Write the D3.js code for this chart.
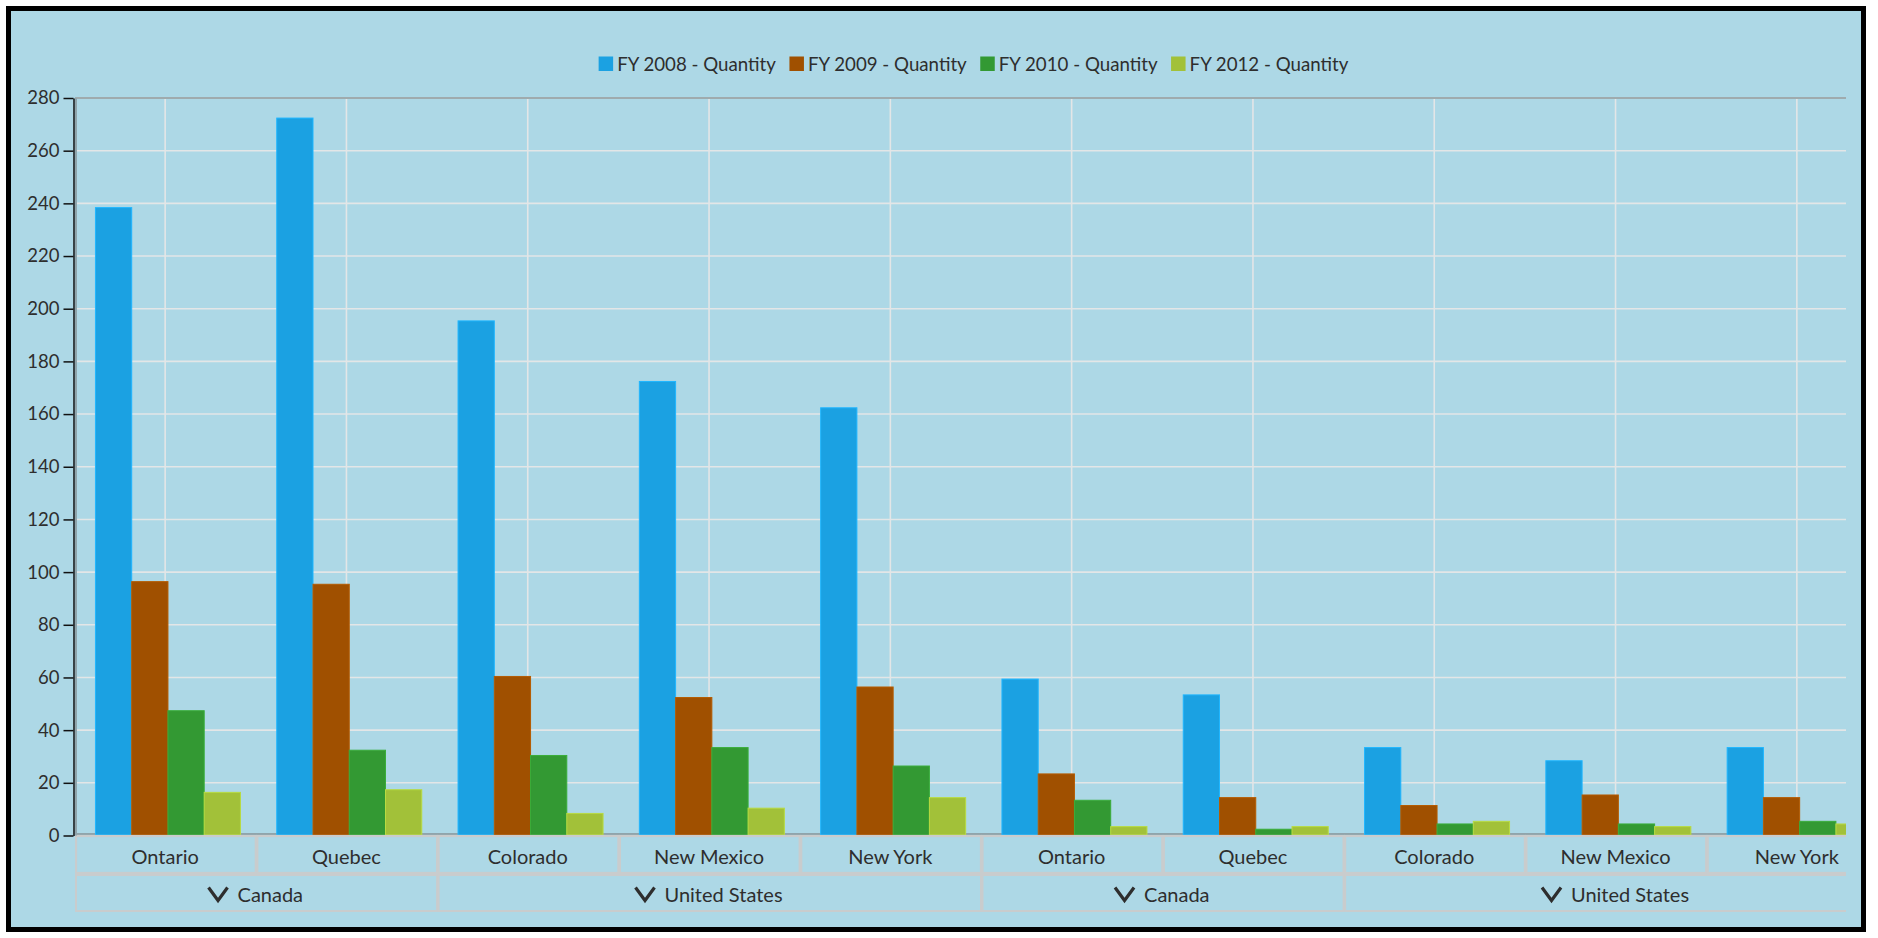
<!DOCTYPE html>
<html>
<head>
<meta charset="utf-8">
<script src="https://cdn.jsdelivr.net/npm/d3@7"></script>
<style>
  html, body { margin: 0; padding: 0; background: #ffffff; }
  svg { display: block; }
  text { font-family: "Segoe UI", Lato, "Noto Sans", sans-serif; fill: #2e2e2e; }
</style>
</head>
<body>
<svg id="chart" width="1878" height="938"></svg>
<script>
// ---------- data ----------
const categories = ["Ontario", "Quebec", "Colorado", "New Mexico", "New York",
                    "Ontario", "Quebec", "Colorado", "New Mexico", "New York"];
const groupNames = ["Canada", "United States", "Canada", "United States"];
const groupSpans = [2, 3, 2, 3];
const seriesNames = ["FY 2008 - Quantity", "FY 2009 - Quantity", "FY 2010 - Quantity", "FY 2012 - Quantity"];
const fy2008 = [238, 272, 195, 172, 162, 59, 53, 33, 28, 33];
const fy2009 = [96, 95, 60, 52, 56, 23, 14, 11, 15, 14];
const fy2010 = [47, 32, 30, 33, 26, 13, 2, 4, 4, 5];
const fy2012 = [16, 17, 8, 10, 14, 3, 3, 5, 3, 4];
const seriesColors = ["#1ba1e2", "#a05000", "#339933", "#a2c139"];
const yTicks = [0, 20, 40, 60, 80, 100, 120, 140, 160, 180, 200, 220, 240, 260, 280];

const seriesValues = [fy2008, fy2009, fy2010, fy2012];

// ---------- layout ----------
const svg = d3.select("#chart");
const W = 1878, H = 938;
const plotLeft = 75, plotRight = 1846, plotTop = 98, plotBottom = 835.5;
const bandStart = 74.5, bandStep = 181.3;

// frame
svg.append("rect").attr("x", 8.5).attr("y", 8.5).attr("width", 1855).attr("height", 921)
  .attr("fill", "#add8e6").attr("stroke", "#000").attr("stroke-width", 5);

const x = d3.scaleBand().domain(d3.range(categories.length))
  .range([bandStart, bandStart + bandStep * categories.length]).padding(0);
const groupWidth = 145;
const xs = d3.scaleBand().domain(seriesNames).range([0, groupWidth]).padding(0);
const barShift = (x.bandwidth() - groupWidth) / 2 + 2.8;
const y = d3.scaleLinear().domain([0, 280]).range([plotBottom, plotTop]);

// clip for plot / axis rows
svg.append("defs").append("clipPath").attr("id", "clipPlot")
  .append("rect").attr("x", plotLeft).attr("y", 0).attr("width", plotRight - plotLeft).attr("height", H);

const plot = svg.append("g").attr("clip-path", "url(#clipPlot)");

// horizontal gridlines
plot.append("g").selectAll("line").data(yTicks.filter(t => t > 0 && t < 280)).join("line")
  .attr("x1", plotLeft).attr("x2", plotRight)
  .attr("y1", d => y(d)).attr("y2", d => y(d))
  .attr("stroke", "#e3e6e7").attr("stroke-width", 1.6);

// vertical gridlines at category centres
plot.append("g").selectAll("line").data(d3.range(categories.length)).join("line")
  .attr("x1", d => x(d) + x.bandwidth() / 2).attr("x2", d => x(d) + x.bandwidth() / 2)
  .attr("y1", plotTop).attr("y2", plotBottom)
  .attr("stroke", "#e3e6e7").attr("stroke-width", 1.6);

// plot border (top, left, bottom)
plot.append("line").attr("x1", plotLeft).attr("x2", plotRight).attr("y1", plotTop).attr("y2", plotTop)
  .attr("stroke", "#9fabae").attr("stroke-width", 2);
plot.append("line").attr("x1", plotLeft).attr("x2", plotRight).attr("y1", plotBottom - 1.5).attr("y2", plotBottom - 1.5)
  .attr("stroke", "#8fa4ab").attr("stroke-width", 2);
svg.append("line").attr("x1", plotLeft + 1).attr("x2", plotLeft + 1).attr("y1", plotTop).attr("y2", plotBottom)
  .attr("stroke", "#8fa4ab").attr("stroke-width", 2);

// bars
const barData = [];
seriesValues.forEach((vals, si) => {
  vals.forEach((v, ci) => barData.push({ ci, si, v }));
});
plot.append("g").selectAll("rect").data(barData).join("rect")
  .attr("x", d => x(d.ci) + barShift + xs(seriesNames[d.si]))
  .attr("y", d => y(d.v) - 1)
  .attr("width", xs.bandwidth())
  .attr("height", d => plotBottom - y(d.v) + 0.5)
  .attr("fill", d => seriesColors[d.si])
  .attr("stroke", d => d3.color(seriesColors[d.si]).brighter(0.35))
  .attr("stroke-width", 1);

// y axis
const yAxis = d3.axisLeft(y).tickValues(yTicks).tickSize(10).tickSizeOuter(0).tickPadding(4);
const gy = svg.append("g").attr("transform", "translate(73.5,0)").call(yAxis);
gy.select(".domain").attr("stroke", "#111").attr("stroke-width", 1.5);
gy.selectAll(".tick line").attr("stroke", "#111").attr("stroke-width", 1.5);
gy.selectAll(".tick text").style("font-size", "18.5px").style("font-family", "\"Segoe UI\", Lato, \"Noto Sans\", sans-serif")
  .attr("fill", "#2e2e2e");

// category label row
const rowTop = 836, rowH = 37, grpTop = 875, grpH = 36;
const cells = plot.append("g");
cells.selectAll("rect").data(d3.range(categories.length)).join("rect")
  .attr("x", d => x(d) + 1.5).attr("y", rowTop)
  .attr("width", x.bandwidth() - 1.5).attr("height", rowH)
  .attr("fill", "none").attr("stroke", "#c9cccd").attr("stroke-width", 2.2);
cells.selectAll("text").data(d3.range(categories.length)).join("text")
  .attr("x", d => x(d) + x.bandwidth() / 2).attr("y", rowTop + 28)
  .attr("text-anchor", "middle").style("font-size", "20px")
  .text(d => categories[d]);

// group row
let acc = 0;
const groupData = groupNames.map((g, i) => {
  const start = acc; acc += groupSpans[i];
  return { name: g, start, end: acc };
});
const gRow = plot.append("g");
gRow.selectAll("rect").data(groupData).join("rect")
  .attr("x", d => x(d.start) + 1.5).attr("y", grpTop)
  .attr("width", d => x(d.end - 1) + x.bandwidth() - x(d.start) - 1.5).attr("height", grpH)
  .attr("fill", "none").attr("stroke", "#c9cccd").attr("stroke-width", 2);
const gItems = gRow.selectAll("g.grp").data(groupData).join("g").attr("class", "grp");
gItems.each(function (d) {
  const g = d3.select(this);
  const cx = (x(d.start) + x(d.end - 1) + x.bandwidth()) / 2;
  const t = g.append("text").attr("y", grpTop + 27).style("font-size", "20px").text(d.name);
  const tw = t.node().getComputedTextLength();
  const chevW = 19, gap = 10;
  const total = chevW + gap + tw;
  const left = cx - total / 2;
  t.attr("x", left + chevW + gap);
  g.append("path")
    .attr("d", `M${left},${grpTop + 12.5} L${left + chevW / 2},${grpTop + 25.5} L${left + chevW},${grpTop + 12.5}`)
    .attr("fill", "none").attr("stroke", "#2e2e2e").attr("stroke-width", 3.2);
});

// legend
const legend = svg.append("g");
const items = legend.selectAll("g").data(seriesNames).join("g");
items.append("rect").attr("width", 14.5).attr("height", 14.5).attr("y", 56.5)
  .attr("fill", (d, i) => seriesColors[i]);
items.append("text").attr("x", 18.5).attr("y", 70.5).style("font-size", "18.7px").text(d => d);
let lx = 0;
const offs = [];
items.each(function () {
  offs.push(lx);
  const w = d3.select(this).select("text").node().getComputedTextLength();
  lx += 18.5 + w + 13.5;
});
const totalW = lx - 13.5;
const legStart = 973.5 - totalW / 2;
items.attr("transform", (d, i) => `translate(${legStart + offs[i]},0)`);
</script>
</body>
</html>
